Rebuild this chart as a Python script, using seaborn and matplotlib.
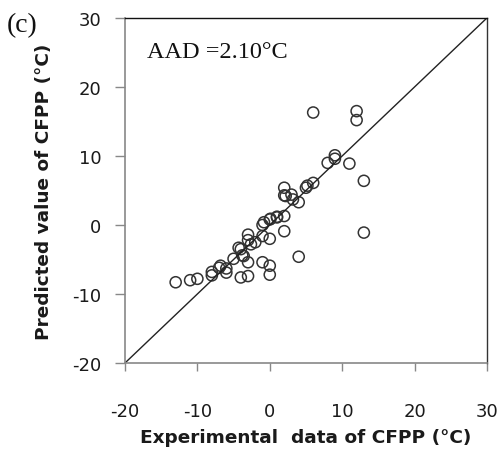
import matplotlib
matplotlib.use("Agg")
import matplotlib.pyplot as plt
import seaborn as sns
import pandas as pd

experimental = [-13, -11, -10, -8, -8, -7, -6.8, -6, -6, -5, -4.3, -4, -4, -3.8, -3.6,
                -3, -3, -3, -3, -2.6, -2, -1, -1, -1, -0.8, 0, 0, 0, 0, 0.1, 1, 1,
                2, 2, 2, 2, 2.2, 3, 3.2, 4, 4, 5, 5.2, 6, 6, 8, 9, 9, 11, 12, 12, 13, 13]
predicted = [-8.3, -8.0, -7.8, -7.3, -6.8, -6.2, -5.9, -6.9, -6.3, -4.9, -3.3, -3.5, -7.6,
             -4.4, -4.5, -7.4, -5.4, -1.4, -2.2, -2.8, -2.5, 0.0, -1.6, -5.4, 0.4, 0.8,
             -2.0, -5.9, -7.2, 0.9, 1.1, 1.2, 1.3, -0.9, 5.4, 4.3, 4.2, 4.4, 3.7, 3.3,
             -4.6, 5.4, 5.7, 6.1, 16.3, 9.0, 10.1, 9.6, 8.9, 16.5, 15.2, 6.4, -1.1]
ticks = [-20, -10, 0, 10, 20, 30]
diag = [-20, 30]

sns.set_style("white")
plt.rcParams['font.family'] = ['DejaVu Sans']

df = pd.DataFrame({"exp": experimental, "pred": predicted})

fig = plt.figure(figsize=(5.03, 4.52), dpi=100)
ax = fig.add_axes([0.2485, 0.1947, 0.7195, 0.7633])

sns.lineplot(x=diag, y=diag, ax=ax, color="#222222", linewidth=1.0)
sns.scatterplot(data=df, x="exp", y="pred", ax=ax, marker="o", s=64,
                facecolor="none", edgecolor="#333333", linewidth=1.1)

ax.set_xlim(-20, 30)
ax.set_ylim(-20, 30)
ax.set_xticks(ticks)
ax.set_yticks(ticks)
ax.set_xticklabels([str(t) for t in ticks])
ax.set_yticklabels([str(t) for t in ticks])
ax.tick_params(axis='x', direction='out', length=6, width=1, color="#888888",
               pad=22, labelsize=13, labelcolor="#1a1a1a")
ax.tick_params(axis='y', direction='out', length=7, width=1, color="#888888",
               pad=10, labelsize=13, labelcolor="#1a1a1a")
ax.tick_params(bottom=True, left=True)

for side in ['left', 'bottom']:
    ax.spines[side].set_color("#888888")
    ax.spines[side].set_linewidth(1.2)
ax.spines['top'].set_color("#111111")
ax.spines['top'].set_linewidth(1.0)
ax.spines['right'].set_color("#333333")
ax.spines['right'].set_linewidth(1.0)

ax.set_xlabel("Experimental  data of CFPP (°C)", fontsize=13.3, fontweight='bold',
              color="#1a1a1a", labelpad=6)
ax.set_ylabel("Predicted value of CFPP (°C)", fontsize=13.3, fontweight='bold',
              color="#1a1a1a", labelpad=14)

ax.text(0.06, 0.904, "AAD =2.10\u00b0C", transform=ax.transAxes, fontsize=17.5,
        family=['Liberation Serif', 'DejaVu Serif'], va='center', ha='left', color="#111111")
fig.text(0.014, 0.944, "(c)", fontsize=20, family=['Liberation Serif', 'DejaVu Serif'],
         va='center', ha='left', color="#111111")

fig.savefig("out.png", dpi=100)
